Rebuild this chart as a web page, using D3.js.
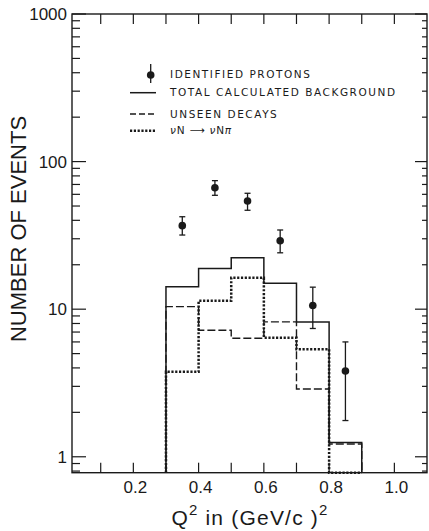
<!DOCTYPE html>
<html>
<head>
<meta charset="utf-8">
<script src="https://cdn.jsdelivr.net/npm/d3@7"></script>
<style>
  html, body { margin: 0; padding: 0; background: #fff; }
  svg { display: block; }
</style>
</head>
<body>
<svg id="chart" width="429" height="531"></svg>
<script>
// Q^2 bin edges, (GeV/c)^2
const binEdges = [0.3, 0.4, 0.5, 0.6, 0.7, 0.8, 0.9];
// Background histograms, events per bin
const totalBackground = [14.2, 18.9, 22.3, 15.0, 8.2, 1.25];
const unseenDecays    = [10.4, 7.2, 6.35, 8.2, 2.88, 1.22];
const pionProduction  = [3.77, 11.4, 16.3, 6.4, 5.35, 0];
// Identified protons with error bars
const protonQ2   = [0.35, 0.45, 0.55, 0.65, 0.75, 0.85];
const protonN    = [36.8, 66.5, 54.1, 29.1, 10.6, 3.81];
const protonLow  = [31.8, 59.1, 46.8, 24.1, 7.4, 1.76];
const protonHigh = [42.3, 74.3, 61.0, 34.4, 14.1, 6.0];
// Axis ticks
const xTicks = [0.1, 0.2, 0.3, 0.4, 0.5, 0.6, 0.7, 0.8, 0.9, 1.0];
const xTickLabels = [0.2, 0.4, 0.6, 0.8, 1.0];
const yMajor = [1, 10, 100, 1000];
const yMinor = [0.8, 0.9, 2, 3, 4, 5, 6, 7, 8, 9, 20, 30, 40, 50, 60, 70, 80, 90, 200, 300, 400, 500, 600, 700, 800, 900];

const svg = d3.select("#chart");
const L = 72, R = 427, T = 14, B = 472.7;
const ink = "#1a1a1a";

const x = d3.scaleLinear().domain([0.012, 1.1]).range([L, R]);
const y = d3.scaleLog().domain([0.78, 1000]).range([B, T]);
const yc = v => y(Math.max(v, y.domain()[0]));

// frame
svg.append("rect").attr("x", L).attr("y", T).attr("width", R - L).attr("height", B - T)
  .attr("fill", "none").attr("stroke", ink).attr("stroke-width", 1.4);

// x ticks (bottom and top, pointing inward)
const xt = svg.append("g").attr("stroke", ink).attr("stroke-width", 1.2);
xTicks.forEach(v => {
  xt.append("line").attr("x1", x(v)).attr("x2", x(v)).attr("y1", B).attr("y2", B - 10);
  xt.append("line").attr("x1", x(v)).attr("x2", x(v)).attr("y1", T).attr("y2", T + 10);
});
// y ticks (left and right, pointing inward)
const yt = svg.append("g").attr("stroke", ink).attr("stroke-width", 1.2);
yMajor.forEach(v => {
  yt.append("line").attr("x1", L).attr("x2", L + 14).attr("y1", y(v)).attr("y2", y(v));
  yt.append("line").attr("x1", R).attr("x2", R - 12).attr("y1", y(v)).attr("y2", y(v));
});
yMinor.forEach(v => {
  yt.append("line").attr("x1", L).attr("x2", L + 8).attr("y1", y(v)).attr("y2", y(v));
  yt.append("line").attr("x1", R).attr("x2", R - 5).attr("y1", y(v)).attr("y2", y(v));
});

// tick labels
const lab = svg.append("g").attr("font-family", "'Liberation Sans', Arial, sans-serif")
  .attr("fill", ink);
xTickLabels.forEach(v => {
  lab.append("text").attr("x", x(v) + 2).attr("y", 492.5).attr("text-anchor", "middle")
    .attr("font-size", 17).text(d3.format(".1f")(v));
});
yMajor.forEach(v => {
  lab.append("text").attr("x", 67).attr("y", y(v) + 6).attr("text-anchor", "end")
    .attr("font-size", 17).text(v);
});

// axis titles
svg.append("text").attr("transform", "translate(26,229) rotate(-90)")
  .attr("text-anchor", "middle").attr("font-family", "'Liberation Sans', Arial, sans-serif")
  .attr("font-size", 22).attr("fill", ink).text("NUMBER OF EVENTS");
const xt2 = svg.append("text").attr("x", 250).attr("y", 525).attr("text-anchor", "middle")
  .attr("font-family", "'Liberation Sans', Arial, sans-serif").attr("font-size", 21)
  .attr("fill", ink).attr("letter-spacing", 1.2);
xt2.append("tspan").text("Q");
xt2.append("tspan").attr("dy", -10).attr("font-size", 15).text("2");
xt2.append("tspan").attr("dy", 10).text(" in (GeV/c )");
xt2.append("tspan").attr("dy", -10).attr("font-size", 15).text("2");

// histogram step paths
function stepPoints(vals) {
  const pts = [[binEdges[0], y.domain()[0]]];
  vals.forEach((v, i) => {
    pts.push([binEdges[i], v]);
    pts.push([binEdges[i + 1], v]);
  });
  pts.push([binEdges[binEdges.length - 1], y.domain()[0]]);
  return pts;
}
const line = d3.line().x(d => x(d[0])).y(d => yc(d[1]));

svg.append("path").attr("d", line(stepPoints(totalBackground)))
  .attr("fill", "none").attr("stroke", ink).attr("stroke-width", 1.5);
svg.append("path").attr("d", line(stepPoints(unseenDecays)))
  .attr("fill", "none").attr("stroke", ink).attr("stroke-width", 1.4)
  .attr("stroke-dasharray", "8,3");
svg.append("path").attr("d", line(stepPoints(pionProduction)))
  .attr("fill", "none").attr("stroke", ink).attr("stroke-width", 2.5)
  .attr("stroke-dasharray", "2.2,1.6");

// proton points with error bars
const pts = svg.append("g").attr("stroke", ink).attr("fill", ink);
protonQ2.forEach((q, i) => {
  const cx = x(q);
  pts.append("line").attr("x1", cx).attr("x2", cx).attr("y1", y(protonLow[i])).attr("y2", y(protonHigh[i]))
    .attr("stroke-width", 1.3);
  [protonLow[i], protonHigh[i]].forEach(v => {
    pts.append("line").attr("x1", cx - 3).attr("x2", cx + 3).attr("y1", y(v)).attr("y2", y(v))
      .attr("stroke-width", 1.3);
  });
  pts.append("circle").attr("cx", cx).attr("cy", y(protonN[i])).attr("r", 3.8).attr("stroke", "none");
});

// legend
const lg = svg.append("g").attr("font-family", "'DejaVu Sans', sans-serif").attr("font-size", 10.5)
  .attr("fill", ink).attr("letter-spacing", 1.55);
lg.append("line").attr("x1", 150.7).attr("x2", 150.7).attr("y1", 64).attr("y2", 83)
  .attr("stroke", ink).attr("stroke-width", 1.3);
lg.append("circle").attr("cx", 150.7).attr("cy", 75).attr("r", 3.8);
lg.append("text").attr("x", 170).attr("y", 77.8).text("IDENTIFIED PROTONS");
lg.append("line").attr("x1", 130).attr("x2", 156).attr("y1", 92.7).attr("y2", 92.7)
  .attr("stroke", ink).attr("stroke-width", 1.5);
lg.append("text").attr("x", 170).attr("y", 96).text("TOTAL CALCULATED BACKGROUND");
lg.append("line").attr("x1", 130).attr("x2", 157).attr("y1", 114).attr("y2", 114)
  .attr("stroke", ink).attr("stroke-width", 1.4).attr("stroke-dasharray", "6,3");
lg.append("text").attr("x", 170).attr("y", 117.5).text("UNSEEN DECAYS");
lg.append("line").attr("x1", 130).attr("x2", 156).attr("y1", 130.7).attr("y2", 130.7)
  .attr("stroke", ink).attr("stroke-width", 2.5).attr("stroke-dasharray", "2.2,1.6");
const react = lg.append("text").attr("x", 170).attr("y", 134.3).attr("letter-spacing", 0.8);
react.append("tspan").attr("font-style", "italic").text("ν");
react.append("tspan").text("N ⟶ ");
react.append("tspan").attr("font-style", "italic").text("ν");
react.append("tspan").text("N");
react.append("tspan").attr("font-style", "italic").text("π");
</script>
</body>
</html>
